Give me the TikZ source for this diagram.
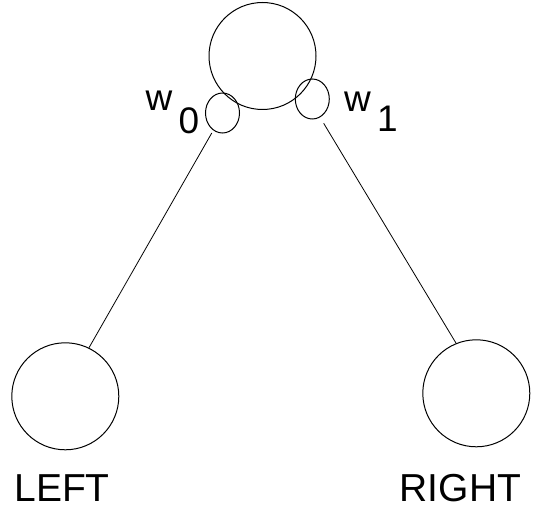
\documentclass[tikz,border=0pt]{standalone}
\usepackage{fontspec}
\setmainfont{Liberation Sans}
\usetikzlibrary{shapes.geometric}
\begin{document}
\begin{tikzpicture}[x=1pt,y=-1pt,
  unit/.style={circle,draw,line width=1pt,minimum size=107pt,inner sep=0pt},
  weight/.style={ellipse,draw,line width=1pt,minimum width=34pt,minimum height=40pt,inner sep=0pt},
  link/.style={line width=0.8pt},
  lbl/.style={anchor=base,inner sep=0pt,font=\fontsize{37}{40}\selectfont},
  side/.style={anchor=base,inner sep=0pt,text depth=0pt,font=\fontsize{39}{42}\selectfont}]
  \useasboundingbox (0,0) rectangle (550,505);
  % units
  \node[unit] (top) at (262.5,56) {};
  \node[unit] (lc) at (65.3,396.3) {};
  \node[unit] (rc) at (476.3,393.3) {};
  % weight rings
  \node[weight] (le) at (222.5,113) {};
  \node[weight] (re) at (312.3,99) {};
  % links
  \draw[link, shorten <=3pt] (le.242) -- (lc.64);
  \draw[link, shorten <=7pt] (re.293) -- (rc.112);
  % labels
  \node[lbl] (w0) at (159,110.7) {w};
  \node[lbl] (s0) at (188.8,134) {0};
  \node[lbl] (w1) at (357.5,111.5) {w};
  \node[lbl] (s1) at (387.5,131.7) {1};
  \node[side] (lt) at (62,501.7) {LEFT};
  \node[side] (rt) at (460.5,501.7) {RIGHT};
\end{tikzpicture}
\end{document}
